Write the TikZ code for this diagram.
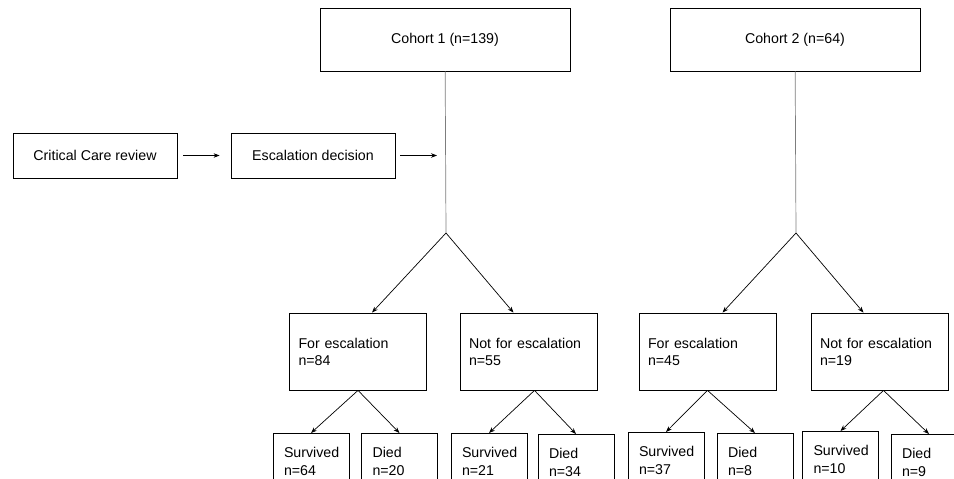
\documentclass[tikz,border=0pt]{standalone}
\usepackage{fontspec}
\setmainfont{Liberation Sans}
\usepackage{tikz}
\usetikzlibrary{arrows.meta, positioning, calc}
\definecolor{stemgray}{RGB}{125, 125, 125}

\begin{document}
\begin{tikzpicture}[x=1pt, y=-1pt, >={Stealth[length=6pt, width=4.5pt]},
  every node/.style={font=\fontsize{14.2}{17}\selectfont},
  flowbox/.style={draw, line width=0.8pt, inner sep=0pt, align=center},
  cohortbox/.style={flowbox, minimum width=250pt, minimum height=63pt},
  stagebox/.style={flowbox, minimum width=164pt, minimum height=45pt},
  groupbox/.style={draw, line width=0.8pt, align=left, inner xsep=9pt, text width=119pt, minimum height=77pt},
  outcomebox/.style={draw, line width=0.8pt, align=left, anchor=north, inner xsep=11pt, inner ysep=14pt, text width=54pt, font=\fontsize{14.2}{18}\selectfont},
  stem/.style={stemgray, line width=0.7pt},
  link/.style={->, line width=0.7pt}]
  \useasboundingbox (0, 0) rectangle (954, 479);
  \clip (0, 0) rectangle (954, 479);

  % Review pathway
  \node[stagebox] (review) at (95, 155.5) {Critical Care review};
  \node[stagebox] (decision) at (313, 155.5) {Escalation decision};
  \coordinate (decend) at (437, 155.5);
  \draw[link, shorten <=6pt, shorten >=11pt] (review) -- (decision);
  \draw[link, shorten <=5pt] (decision) -- (decend);

  % Cohorts
  \node[cohortbox] (cohortA) at (445, 39.5) {Cohort 1 (n=139)};
  \node[cohortbox] (cohortB) at (795, 39.5) {Cohort 2 (n=64)};
  \coordinate (splitA) at (446, 233);
  \coordinate (splitB) at (796, 233);
  \draw[stem] (cohortA) -- (splitA);
  \draw[stem] (cohortB) -- (splitB);

  % Escalation groups
  \node[groupbox] (escA) at (358, 351.5) {For escalation\\n=84};
  \node[groupbox] (noescA) at (528.5, 351.5) {Not for escalation\\n=55};
  \node[groupbox] (escB) at (707.5, 351.5) {For escalation\\n=45};
  \node[groupbox] (noescB) at (879.5, 351.5) {Not for escalation\\n=19};
  \draw[link] (splitA) -- ([xshift=14pt]escA.north);
  \draw[link] (splitA) -- ([xshift=-15pt]noescA.north);
  \draw[link] (splitB) -- ([xshift=15pt]escB.north);
  \draw[link] (splitB) -- ([xshift=-16pt]noescB.north);

  % Outcomes
  \node[outcomebox] (survA) at (311, 433) {Survived\\n=64};
  \node[outcomebox] (diedA) at (399.5, 433) {Died\\n=20};
  \node[outcomebox] (survNA) at (489, 433) {Survived\\n=21};
  \node[outcomebox] (diedNA) at (576, 434) {Died\\n=34};
  \node[outcomebox] (survB) at (666, 432) {Survived\\n=37};
  \node[outcomebox] (diedB) at (755, 433) {Died\\n=8};
  \node[outcomebox] (survNB) at (840.5, 431) {Survived\\n=10};
  \node[outcomebox] (diedNB) at (929, 434) {Died\\n=9};
  \draw[link] (escA.south) -- (survA.north);
  \draw[link] (escA.south) -- (diedA.north);
  \draw[link] ([xshift=6pt]noescA.south) -- (survNA.north);
  \draw[link] ([xshift=6pt]noescA.south) -- (diedNA.north);
  \draw[link] (escB.south) -- (survB.north);
  \draw[link] (escB.south) -- (diedB.north);
  \draw[link] ([xshift=4pt]noescB.south) -- (survNB.north);
  \draw[link] ([xshift=4pt]noescB.south) -- (diedNB.north);
\end{tikzpicture}
\end{document}
